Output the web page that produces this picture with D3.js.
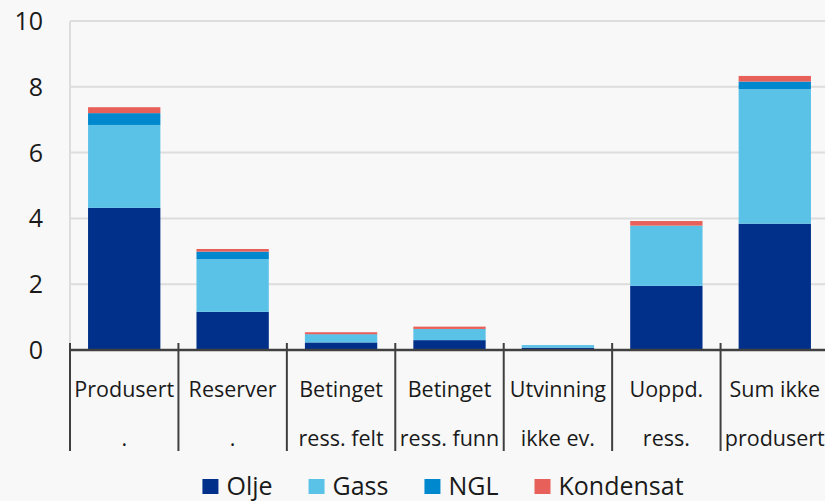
<!DOCTYPE html>
<html lang="no">
  <head>
    <meta charset="UTF-8" />
    <title>Ressurser</title>
    <style>
      * {
        margin: 0;
        padding: 0;
      }
      body {
        background: #f8f8f8;
      }
      text {
        font-family: 'Open Sans', 'Noto Sans', sans-serif;
        fill: #1a1a1a;
      }
    </style>
  </head>
  <body>
    <script src="https://cdn.jsdelivr.net/npm/d3@7"></script>
    <script>
      // kategorier (to linjer hver)
      const categories = ['Produsert', 'Reserver', 'Betinget felt', 'Betinget funn', 'Utvinning', 'Uoppd.', 'Sum ikke']
      const labelLine1 = ['Produsert', 'Reserver', 'Betinget', 'Betinget', 'Utvinning', 'Uoppd.', 'Sum ikke']
      const labelLine2 = ['.', '.', 'ress. felt', 'ress. funn', 'ikke ev.', 'ress.', 'produsert']

      const seriesNames = ['Olje', 'Gass', 'NGL', 'Kondensat']
      const olje = [4.32, 1.16, 0.23, 0.3, 0.07, 1.95, 3.84]
      const gass = [2.52, 1.6, 0.24, 0.33, 0.08, 1.83, 4.09]
      const ngl = [0.36, 0.23, 0.01, 0.01, 0.0, 0.0, 0.23]
      const kondensat = [0.18, 0.08, 0.06, 0.07, 0.0, 0.14, 0.17]
      const colors = ['#00308a', '#5bc2e7', '#0088ce', '#e8605a']

      const yTicks = [0, 2, 4, 6, 8, 10]

      const width = 825
      const height = 501
      const margin = { top: 21, right: -4, bottom: 151, left: 70 }

      const svg = d3
        .select('body')
        .append('svg')
        .attr('width', width)
        .attr('height', height)

      svg.append('rect').attr('width', width).attr('height', height).attr('fill', '#f8f8f8')

      const rows = categories.map((c, i) => ({
        cat: c,
        Olje: olje[i],
        Gass: gass[i],
        NGL: ngl[i],
        Kondensat: kondensat[i]
      }))
      const stacked = d3.stack().keys(seriesNames)(rows)

      const x = d3
        .scaleBand()
        .domain(categories)
        .range([margin.left, width - margin.right])
        .paddingInner(0.333)
        .paddingOuter(0.1665)

      const y = d3
        .scaleLinear()
        .domain([0, 10])
        .range([height - margin.bottom, margin.top])

      // rutenett
      svg
        .append('g')
        .selectAll('line')
        .data(yTicks.filter(d => d > 0))
        .join('line')
        .attr('x1', margin.left)
        .attr('x2', width)
        .attr('y1', d => y(d))
        .attr('y2', d => y(d))
        .attr('stroke', '#dddddd')
        .attr('stroke-width', 2)

      // venstre akselinje
      svg
        .append('line')
        .attr('x1', margin.left)
        .attr('x2', margin.left)
        .attr('y1', y(10))
        .attr('y2', y(0))
        .attr('stroke', '#dddddd')
        .attr('stroke-width', 2)

      // y-etiketter
      svg
        .append('g')
        .selectAll('text')
        .data(yTicks)
        .join('text')
        .attr('x', 43)
        .attr('y', d => y(d))
        .attr('dy', '0.36em')
        .attr('text-anchor', 'end')
        .style('font-size', '25px')
        .text(d => d)

      // stolper
      svg
        .append('g')
        .selectAll('g')
        .data(stacked)
        .join('g')
        .attr('fill', (d, i) => colors[i])
        .selectAll('rect')
        .data(d => d.map(v => Object.assign(v, { cat: v.data.cat })))
        .join('rect')
        .attr('x', d => x(d.cat))
        .attr('width', x.bandwidth())
        .attr('y', d => y(d[1]))
        .attr('height', d => y(d[0]) - y(d[1]))

      // x-akse
      const step = x.step()
      const bounds = categories.map(c => x(c) - (step - x.bandwidth()) / 2)
      svg
        .append('line')
        .attr('x1', margin.left)
        .attr('x2', width)
        .attr('y1', y(0))
        .attr('y2', y(0))
        .attr('stroke', '#404040')
        .attr('stroke-width', 2.5)

      svg
        .append('g')
        .selectAll('line')
        .data(bounds)
        .join('line')
        .attr('x1', d => d)
        .attr('x2', d => d)
        .attr('y1', y(0) - 7)
        .attr('y2', 451)
        .attr('stroke', '#404040')
        .attr('stroke-width', 2)

      const labels = svg.append('g').style('font-size', '21.5px')
      labels
        .selectAll('text.l1')
        .data(categories)
        .join('text')
        .attr('class', 'l1')
        .attr('x', d => x(d) + x.bandwidth() / 2)
        .attr('y', 397)
        .attr('text-anchor', 'middle')
        .text((d, i) => labelLine1[i])
      labels
        .selectAll('text.l2')
        .data(categories)
        .join('text')
        .attr('class', 'l2')
        .attr('x', d => x(d) + x.bandwidth() / 2)
        .attr('y', 446)
        .attr('text-anchor', 'middle')
        .text((d, i) => labelLine2[i])

      // tegnforklaring
      const legend = svg.append('g')
      const items = legend
        .selectAll('g')
        .data(seriesNames)
        .join('g')
      items
        .append('rect')
        .attr('width', 16)
        .attr('height', 15)
        .attr('y', 479)
        .attr('fill', (d, i) => colors[i])
      items
        .append('text')
        .attr('x', 24)
        .attr('y', 495)
        .style('font-size', '25px')
        .text(d => d)

      let offset = 0
      const gap = 36
      items.each(function () {
        const w = 24 + this.querySelector('text').getComputedTextLength()
        d3.select(this).attr('transform', `translate(${offset},0)`)
        offset += w + gap
      })
      const total = offset - gap
      legend.attr('transform', `translate(${443 - total / 2},0)`)
    </script>
  </body>
</html>
